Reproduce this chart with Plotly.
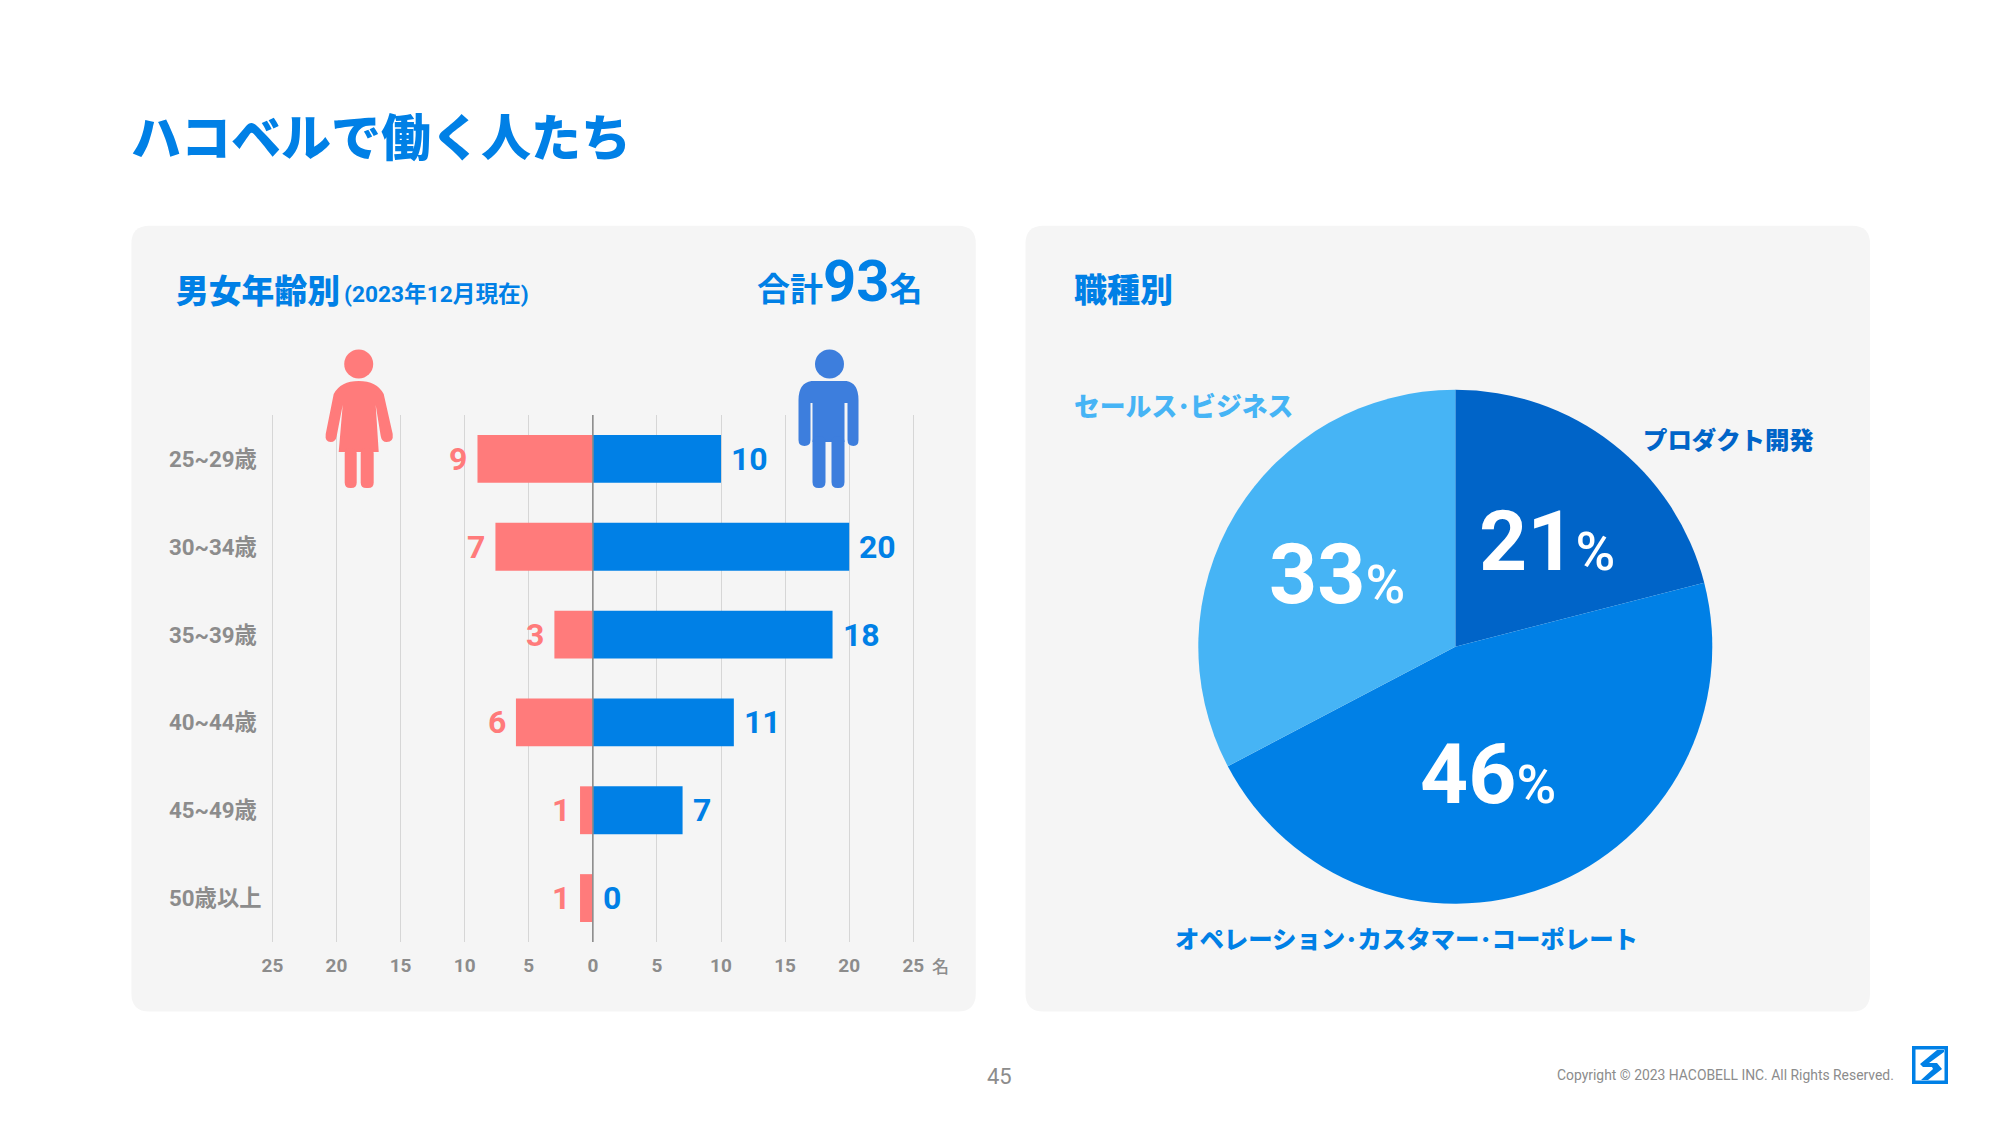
#!/usr/bin/env python3
"""Hacobell staff slide: age/gender butterfly bars and job category pie."""

import re

import plotly.graph_objects as go

W, H = 2000, 1125
PAGE_MARGIN = 8  # the browser's default body margin

AGE_GROUPS = ["25~29歳", "30~34歳", "35~39歳", "40~44歳", "45~49歳", "50歳以上"]
FEMALE = [9, 7, 3, 6, 1, 1]
MALE = [10, 20, 18, 11, 7, 0]
# the drawn bars and slices do not quite follow their labels in the source slide
FEMALE_BAR = [9, 7.6, 3, 6, 1, 1]
MALE_BAR = [10, 20, 18.7, 11, 7, 0]
X_TICKS = [-25, -20, -15, -10, -5, 0, 5, 10, 15, 20, 25]

JOBS = ["プロダクト開発", "オペレーション･カスタマー･コーポレート", "セールス･ビジネス"]
JOB_SHARE = [21, 46, 33]
JOB_SLICE = [21, 46.3, 32.7]

BLUE = "#0080E6"
DARK_BLUE = "#0064C8"
LIGHT_BLUE = "#46B4F5"
PINK = "#FF7B7B"
MALE_ICON = "#3D7EDD"
GREY = "#8C8C8C"
PANEL = "#F5F5F5"
FONT = "Roboto, 'Noto Sans CJK JP', sans-serif"
JP_FONT = "'Noto Sans CJK JP', sans-serif"


def px(x):
    return (x - PAGE_MARGIN) / W


def py(y):
    return 1 - (y - PAGE_MARGIN) / H


def pth(s, dx=0):
    """Path written in page pixels -> paper coordinates."""
    out, is_x = [], True
    for tok in re.findall(r"[A-Za-z]|-?\d+\.?\d*", s):
        if tok.isalpha():
            out.append(tok)
            continue
        out.append(f"{px(float(tok) + dx):.5f}" if is_x else f"{py(float(tok)):.5f}")
        is_x = not is_x
    return " ".join(out)


def rounded(x0, y0, x1, y1, r, dx=0):
    return pth(
        f"M {x0 + r} {y0} L {x1 - r} {y0} Q {x1} {y0} {x1} {y0 + r} L {x1} {y1 - r} "
        f"Q {x1} {y1} {x1 - r} {y1} L {x0 + r} {y1} Q {x0} {y1} {x0} {y1 - r} "
        f"L {x0} {y0 + r} Q {x0} {y0} {x0 + r} {y0} Z", dx
    )


def path_shape(path, color, layer="above"):
    return dict(type="path", xref="paper", yref="paper", path=path, fillcolor=color,
                line=dict(width=0), layer=layer)


def head(cx, cy, color):
    return dict(type="circle", xref="paper", yref="paper", x0=px(cx - 14.5), x1=px(cx + 14.5),
                y0=py(cy + 14.5), y1=py(cy - 14.5), fillcolor=color, line=dict(width=0), layer="above")


def text(x, y, s, size, color, anchor="left", family=FONT, weight=700):
    return dict(xref="paper", yref="paper", x=px(x), y=py(y), text=s, showarrow=False,
                xanchor=anchor, yanchor="middle", font=dict(family=family, size=size, color=color, weight=weight))


fig = go.Figure()
fig.add_trace(go.Bar(y=AGE_GROUPS, x=[-v for v in FEMALE_BAR], orientation="h",
                     marker=dict(color=PINK, line=dict(width=0)), hoverinfo="skip"))
fig.add_trace(go.Bar(y=AGE_GROUPS, x=MALE_BAR, orientation="h",
                     marker=dict(color=BLUE, line=dict(width=0)), hoverinfo="skip"))
fig.add_trace(go.Pie(labels=JOBS, values=JOB_SLICE, sort=False, direction="clockwise", rotation=0,
                     marker=dict(colors=[DARK_BLUE, BLUE, LIGHT_BLUE], line=dict(width=0)),
                     textinfo="none", hoverinfo="skip",
                     domain=dict(x=[px(1198.3), px(1712.3)], y=[py(903.7), py(389.7)])))

FEMALE_DX, MALE_DX = -1.3, -3.5
shapes = [
    path_shape(rounded(131.4, 225.8, 975.8, 1011.5, 18), PANEL, "below"),
    path_shape(rounded(1025.5, 225.8, 1870, 1011.5, 18), PANEL, "below"),
    dict(type="line", xref="x", yref="y domain", x0=0, x1=0, y0=0, y1=1,
         line=dict(color=GREY, width=1.6), layer="above"),
    # female icon
    head(360 + FEMALE_DX, 364, PINK),
    path_shape(pth("M 360 381 Q 378 381 385 394 L 394 434 Q 395 442 388 442 Q 383 442 382 436 "
                   "L 377 405 L 380 452 L 340 452 L 344 405 L 338 436 Q 337 442 332 442 "
                   "Q 326 442 327 434 L 335 394 Q 342 381 360 381 Z", FEMALE_DX), PINK),
    path_shape(rounded(346, 448, 358, 488, 5.5, FEMALE_DX), PINK),
    path_shape(rounded(362, 448, 375, 488, 5.5, FEMALE_DX), PINK),
    # male icon
    head(833 + MALE_DX, 364, MALE_ICON),
    path_shape(pth("M 815 381 L 850 381 Q 862 383 862 400 L 862 440 Q 862 446 857 446 Q 851 446 851 440 "
                   "L 851 403 L 848 403 L 848 442 L 816 442 L 816 403 L 814 403 L 814 440 "
                   "Q 814 446 808 446 Q 802 446 802 440 L 802 400 Q 802 383 815 381 Z", MALE_DX), MALE_ICON),
    path_shape(rounded(816, 436, 829, 488, 6, MALE_DX), MALE_ICON),
    path_shape(rounded(835, 436, 848, 488, 6, MALE_DX), MALE_ICON),
    # logo
    path_shape(pth("M 1912 1046 L 1948 1046 L 1948 1084 L 1912 1084 Z"), BLUE),
    path_shape(pth("M 1915.5 1049.5 L 1944.5 1049.5 L 1944.5 1080.5 L 1915.5 1080.5 Z"), "#FFFFFF"),
    path_shape(pth("M 1944 1050 L 1937 1050 L 1920 1064 L 1923 1067 L 1932 1067 L 1933 1069 L 1921 1080 "
                   "L 1928 1080 L 1942 1069 L 1937 1063 L 1929 1063 L 1944 1052 Z"), BLUE),
]

annotations = [
    text(129, 134, "ハコベルで働く人たち", 50, BLUE, family=JP_FONT, weight=900),
    text(173.5, 288, "男女年齢別", 32.8, BLUE, family=JP_FONT, weight=900),
    text(341.5, 294.7, "(2023年12月現在)", 22.7, BLUE),
    text(925, 281, "合計<span style='font-size:58px'>93</span>名", 33, BLUE, anchor="right"),
    text(1071.6, 288, "職種別", 33, BLUE, family=JP_FONT, weight=900),
    text(940.5, 965, "名", 17, GREY, anchor="center", family=JP_FONT, weight=500),
    text(1641, 438.5, JOBS[0], 24.4, DARK_BLUE, family=JP_FONT, weight=900),
    text(1172.6, 937, JOBS[1], 24.4, BLUE, family=JP_FONT, weight=900),
    text(1071.6, 404.5, JOBS[2], 25.8, LIGHT_BLUE, family=JP_FONT, weight=900),
    text(999, 1076, "45", 22, GREY, anchor="center", weight=400),
    text(1896, 1075, "Copyright © 2023 HACOBELL INC. All Rights Reserved.", 13.9, GREY,
         anchor="right", weight=400),
]

# pie percentages
for pos, val in zip([(1546.6, 541.5), (1488, 774.5), (1336.5, 574.7)], JOB_SHARE):
    annotations.append(text(pos[0], pos[1], f"{val}<span style='font-size:54px;font-weight:500'>%</span>", 84,
                            "#FFFFFF", anchor="center"))

# row labels, left aligned, and bar values
for cat, f, m, fb, mb in zip(AGE_GROUPS, FEMALE, MALE, FEMALE_BAR, MALE_BAR):
    annotations.append(dict(xref="paper", yref="y", x=px(167), y=cat, text=cat, showarrow=False,
                            xanchor="left", font=dict(family=FONT, size=22.3, color=GREY, weight=700)))
    annotations.append(dict(xref="x", yref="y", x=-fb, y=cat, text=str(f), showarrow=False, xanchor="right",
                            xshift=-8, font=dict(family=FONT, size=32, color=PINK, weight=700)))
    annotations.append(dict(xref="x", yref="y", x=mb, y=cat, text=str(m), showarrow=False, xanchor="left",
                            xshift=8, font=dict(family=FONT, size=32, color=BLUE, weight=700)))

fig.update_layout(
    width=W, height=H, margin=dict(l=0, r=0, t=0, b=0, autoexpand=False), autosize=False,
    paper_bgcolor="#FFFFFF", plot_bgcolor="rgba(0,0,0,0)", showlegend=False,
    barmode="relative", bargap=0.455,
    # range runs a little past 25: plotly drops gridlines sitting on the plot edge
    xaxis=dict(domain=[px(269.84), px(915.86)], range=[-25.2, 25.2], tickvals=X_TICKS,
               ticktext=[str(abs(v)) for v in X_TICKS], showgrid=True, gridcolor="#D6D6D6", gridwidth=1.4,
               zeroline=False, showline=False, ticks="", ticklabelstandoff=10,
               tickfont=dict(family=FONT, size=19, color=GREY, weight=700)),
    yaxis=dict(domain=[py(942), py(415)], range=[5.5, -0.5], type="category",
               showticklabels=False, showgrid=False, zeroline=False, showline=False, ticks=""),
    shapes=shapes, annotations=annotations,
)

fig.write_html("out.html")
